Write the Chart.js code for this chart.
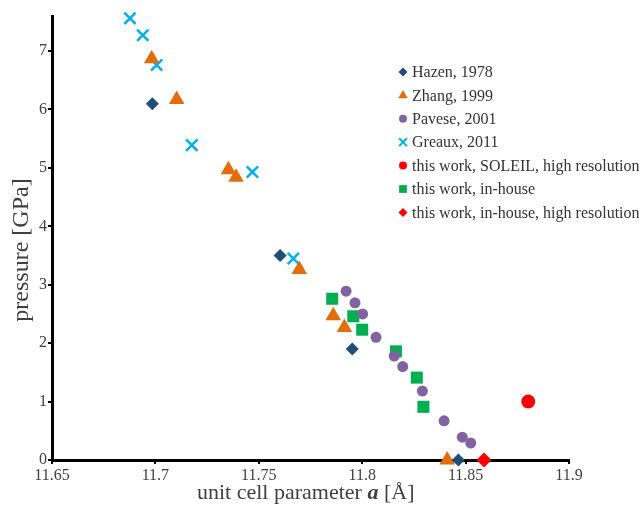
<!DOCTYPE html>
<html>
<head>
<meta charset="utf-8">
<script src="https://cdn.jsdelivr.net/npm/chart.js@4.4.1/dist/chart.umd.min.js"></script>
<style>
  html, body { margin: 0; padding: 0; background: #ffffff; }
  #wrap { width: 643px; height: 509px; }
</style>
</head>
<body>
<div id="wrap"><canvas id="latticeChart" width="643" height="509"></canvas></div>
<script>
// unit cell parameter a [Å] vs pressure [GPa]
const hazenA = [11.6985, 11.7603, 11.7952, 11.8465];
const hazenP = [6.10, 3.50, 1.90, 0];

const zhangA = [11.6982, 11.7103, 11.7353, 11.7390, 11.7696, 11.7860, 11.7914, 11.8411];
const zhangP = [6.87, 6.17, 4.97, 4.84, 3.26, 2.47, 2.27, 0];

const paveseA = [11.7922, 11.7965, 11.8002, 11.8067, 11.8155, 11.8196, 11.8291, 11.8396, 11.8484, 11.8525];
const paveseP = [2.89, 2.69, 2.50, 2.10, 1.78, 1.60, 1.18, 0.67, 0.39, 0.29];

const greauxA = [11.6877, 11.6939, 11.7006, 11.7176, 11.7469, 11.7667];
const greauxP = [7.56, 7.27, 6.76, 5.39, 4.93, 3.45];

const soleilA = [11.8803];
const soleilP = [1.00];

const inHouseA = [11.7855, 11.7957, 11.8000, 11.8163, 11.8264, 11.8296];
const inHouseP = [2.76, 2.46, 2.23, 1.86, 1.41, 0.91];

const inHouseHrA = [11.8589];
const inHouseHrP = [0];

const xTicks = [11.65, 11.7, 11.75, 11.8, 11.85, 11.9];
const yTicks = [0, 1, 2, 3, 4, 5, 6, 7];

const SERIF = "'Liberation Serif', 'DejaVu Serif', serif";

function toPoints(xs, ys) {
    return xs.map((x, i) => ({ x: x, y: ys[i] }));
}

function series(label, xs, ys, style, color, radius, legendRadius, extra) {
    return Object.assign({
        label: label,
        data: toPoints(xs, ys),
        pointStyle: style,
        pointRadius: radius,
        pointHoverRadius: radius,
        backgroundColor: color,
        borderColor: color,
        pointBorderWidth: 0,
        legendRadius: legendRadius,
        clip: false
    }, extra || {});
}

const datasets = [
    series('Hazen, 1978', hazenA, hazenP, 'rectRot', '#1f4e79', 6.5, 4.5),
    series('Zhang, 1999', zhangA, zhangP, 'triangle', '#e46c0a', 9, 5.5),
    series('Pavese, 2001', paveseA, paveseP, 'circle', '#8064a2', 5.5, 4),
    series('Greaux, 2011', greauxA, greauxP, 'crossRot', '#00b0f0', 8, 5.5, { pointBorderWidth: 2.5 }),
    series('this work, SOLEIL, high resolution', soleilA, soleilP, 'circle', '#ff0000', 7, 4),
    series('this work, in-house', inHouseA, inHouseP, 'rect', '#00b050', 8.5, 5.5),
    series('this work, in-house, high resolution', inHouseHrA, inHouseHrP, 'rectRot', '#ff0000', 7.5, 4.5)
];

// legend drawn inside the plot area, one row per series
const sideLegend = {
    id: 'sideLegend',
    afterDraw(chart) {
        const ctx = chart.ctx;
        const markerX = 403;
        const textX = 412;
        const top = 72;
        const step = 23.4;
        ctx.save();
        chart.data.datasets.forEach((ds, i) => {
            const y = top + i * step;
            ctx.fillStyle = ds.backgroundColor;
            ctx.strokeStyle = ds.borderColor;
            ctx.lineWidth = ds.pointBorderWidth ? 2 : 0;
            Chart.helpers.drawPoint(ctx, {
                pointStyle: ds.pointStyle,
                radius: ds.legendRadius,
                rotation: 0,
                borderWidth: ds.pointBorderWidth ? 2 : 0
            }, markerX, y);
            ctx.fillStyle = '#333333';
            ctx.font = '16px ' + SERIF;
            ctx.textAlign = 'left';
            ctx.textBaseline = 'middle';
            ctx.fillText(ds.label, textX, y + 1);
        });
        ctx.restore();
    }
};

// axis titles; the x title has the bold italic lattice symbol
const axisTitles = {
    id: 'axisTitles',
    afterDraw(chart) {
        const ctx = chart.ctx;
        const parts = [
            { text: 'unit cell parameter ', font: '22px ' + SERIF },
            { text: 'a', font: 'italic bold 22px ' + SERIF },
            { text: ' [Å]', font: '22px ' + SERIF }
        ];
        let x = 197;
        ctx.save();
        ctx.fillStyle = '#404040';
        ctx.textAlign = 'left';
        ctx.textBaseline = 'alphabetic';
        parts.forEach(p => {
            ctx.font = p.font;
            ctx.fillText(p.text, x, 499);
            x += ctx.measureText(p.text).width;
        });

        ctx.translate(22, 250);
        ctx.rotate(-Math.PI / 2);
        ctx.font = '24px ' + SERIF;
        ctx.textAlign = 'center';
        ctx.textBaseline = 'middle';
        ctx.fillText('pressure [GPa]', 0, 0);
        ctx.restore();
    }
};

function createLatticeChart() {
    const ctx = document.getElementById('latticeChart').getContext('2d');

    new Chart(ctx, {
        type: 'scatter',
        data: { datasets: datasets },
        options: {
            responsive: false,
            animation: false,
            layout: { padding: { left: 0, top: 16, right: 74, bottom: 0 } },
            plugins: {
                legend: { display: false },
                tooltip: { enabled: false }
            },
            scales: {
                x: {
                    type: 'linear',
                    min: 11.65,
                    max: 11.9,
                    afterBuildTicks: scale => { scale.ticks = xTicks.map(v => ({ value: v })); },
                    afterFit: scale => { scale.height = 49; },
                    border: { display: true, color: '#000000', width: 3 },
                    grid: { drawOnChartArea: false, drawTicks: true, tickLength: 4, color: '#000000', lineWidth: 2 },
                    ticks: {
                        color: '#404040',
                        font: { family: SERIF, size: 16 },
                        padding: 2,
                        maxRotation: 0,
                        autoSkip: false,
                        callback: v => String(+Number(v).toFixed(2))
                    }
                },
                y: {
                    type: 'linear',
                    min: 0,
                    max: 7.6,
                    afterBuildTicks: scale => { scale.ticks = yTicks.map(v => ({ value: v })); },
                    afterFit: scale => { scale.width = 52; },
                    border: { display: true, color: '#000000', width: 3 },
                    grid: { drawOnChartArea: false, drawTicks: true, tickLength: 4, color: '#000000', lineWidth: 2 },
                    ticks: {
                        color: '#404040',
                        font: { family: SERIF, size: 16 },
                        padding: 1,
                        autoSkip: false,
                        callback: v => String(v)
                    }
                }
            }
        },
        plugins: [sideLegend, axisTitles]
    });
}

createLatticeChart();
</script>
</body>
</html>
